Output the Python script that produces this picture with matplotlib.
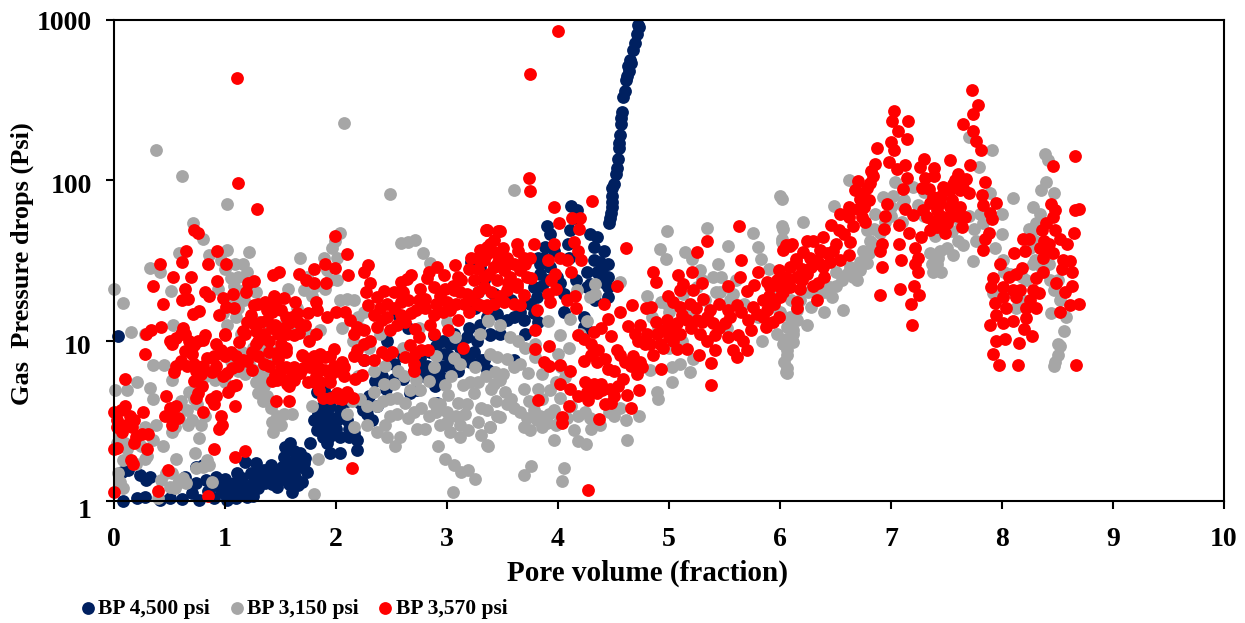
import matplotlib
matplotlib.use('Agg')
import matplotlib.pyplot as plt
from matplotlib.transforms import ScaledTranslation

plt.rcParams['font.family'] = ['Liberation Serif', 'DejaVu Serif']
plt.rcParams['font.weight'] = 'bold'

x_ticks = [0, 1, 2, 3, 4, 5, 6, 7, 8, 9, 10]
y_ticks = [1, 10, 100, 1000]
y_tick_labels = ['1', '10', '100', '1000']

# BP 4,500 psi, (pore volume, psi)
navy_low = [(0.04,10.7),(0.08,1),(0.21,1.04),(0.28,1.06),(0.07,1.52),(0.13,1.56),(0.23,1.45),(0.32,1.42),
            (0.29,1.35),(0.41,1.01),(0.5,1.04),(0.61,1.03),(0.64,1.42),(0.74,1.64),(0.8,1.68),(0.7,1.12),
            (0.77,1.01),(0.74,1.29),(0.83,1.35),(0.92,1.42),(0.96,1.17),(1.02,1.01),(1.1,1.04),(1.2,1.06),
            (1.25,1.07),(1.17,1.23),(1.08,1.29),(0.98,1.29),(1.11,1.49),(1.18,1.76),(1.28,1.72),(1.23,1.49),
            (1.32,1.35),(1.41,1.68),(1.47,1.23),(1.38,1.42),(1.5,1.49),(1.6,1.13),(1.54,2.18),(1.59,2.29),
            (1.53,1.89),(1.51,1.64),(1.59,1.76),(1.68,1.98),(1.77,2.29),(1.69,1.32),(1.74,1.52),(1.68,1.64),
            (1.63,1.42),(0.85,1.15),(0.9,1.05),(1.0,1.1),(1.05,1.18),(1.14,1.12),(1.3,1.2),(1.36,1.3),
            (1.44,1.4),(1.56,1.5),(1.62,1.6),(1.72,1.85),(1.0,1.38),(1.15,1.4),(1.25,1.3),(1.08,1.12),
            (1.2,1.2),(1.28,1.45),(1.35,1.55),(1.42,1.28),(1.46,1.55),(1.52,1.38),(1.58,1.28),(1.64,1.75),
            (1.66,1.25),(1.71,1.72),(1.62,2.05),(0.9,1.25),(0.95,1.35),(1.12,1.3),(1.22,1.15),(1.3,1.55)]
navy_mid = [(1.8,3.2),(1.86,3.8),(1.95,3.9),(2.04,3.7),(1.83,2.77),(1.92,2.9),(2.01,3.2),(1.92,2.29),
            (1.95,2),(2.04,2),(2.19,2.08),(2.19,2.4),(2.04,2.52),(2.16,2.64),(1.98,4.5),(1.83,4.8),
            (1.89,4.9),(2.28,3.5),(2.37,3.9),(2.22,4.1),(2.25,7.6),(2.41,6),(2.46,10),(2.52,7.2),
            (2.55,14.7),(2.73,4.9),(2.67,4.7),(2.79,6),(2.88,6.2),(2.94,6),(2.89,5.2),(2.91,4.1),
            (2.97,8.3),(2.94,7),(3.03,9.5),(3.06,11),(2.88,10.8),(3.21,7.4),(3.15,8.3),(3.27,10),
            (3.31,7.6),(3.39,11),(3.37,6.6),(3.42,19.6),(3.45,14.7),(3.22,31),(3.3,29),(3.33,24),
            (1.9,3.4),(1.98,3.0),(1.88,2.5),(2.1,3.2),(2.12,2.8),(1.97,2.6),(2.1,4.2),(2.3,4.5),
            (2.35,5.6),(2.6,8),(2.65,12),(2.75,7),(2.85,8.5),(3.0,7),(3.1,10),(3.1,6.5),(3.2,12),(3.25,16),
            (1.84,3.5),(1.88,3.1),(1.92,3.6),(1.96,3.3),(2.0,2.8),(2.07,3.4),(2.12,2.5),(1.86,2.9),(1.94,2.5),
            (2.05,4.2),(2.24,3.7),(2.32,3.2),(2.45,5),(2.52,5.8),(2.6,5.8),(2.7,6.5),(2.76,7.8),(2.82,7),
            (2.9,9.2),(2.96,10),(3.02,8),(3.08,7.5),(3.12,9),(3.18,10.5),(3.24,8.5),(3.3,12.5),(3.36,14),(3.28,20)]
navy_high = [(3.39,10.8),(3.6,7.6),(3.36,6.6),(3.33,7.6),(3.48,11),(3.54,13.4),(3.6,14),(3.69,13.4),
             (3.78,14.8),(3.42,19.6),(3.81,18.8),(3.78,21.6),(3.84,26),(3.82,33),(3.9,52),(3.93,46.5),
             (3.88,38.5),(3.87,33),(4.12,69),(4.17,65),(4.11,48.7),(4.09,40),(4.29,46.5),(4.35,44),
             (4.32,38.5),(4.41,36),(4.32,32),(4.45,30),(4.26,27),(4.35,27),(4.45,25),(4.45,21.6),
             (4.26,21.6),(4.05,19.6),(4.05,15),(4.45,18.8),(4.23,14),(4.26,11.6),(4.23,12.2),(4.29,22.7),
             (3.99,25),(3.93,29),(3.84,30),(3.9,24),(3.75,17),(4.14,58),(4.1,33),(4.37,26),(4.33,18),(3.7,11),
             (3.86,22),(3.82,13),(3.66,15),(3.58,18),(4.02,23),(4.16,24),(4.38,31),(4.42,23),(4.4,28),(3.96,36)]
navy_spike = [(4.46,54),(4.47,58),(4.48,63),(4.49,68),(4.487,73),(4.49,80),(4.49,89),(4.5,95),(4.52,110),
              (4.53,120),(4.54,135),(4.55,158),(4.55,172),(4.56,191),(4.57,226),(4.57,245),(4.58,265),
              (4.59,330),(4.6,360),(4.61,420),(4.62,450),(4.63,520),(4.64,480),(4.65,560),(4.66,540),
              (4.68,650),(4.69,720),(4.71,820),(4.72,930),(4.73,900)]

# BP 3,150 psi
gray_left = [(2.07,229),(0.38,154),(0.61,106),(1.02,71),(2.49,82),(0.71,54),(0.8,43),(0.59,35),(0.32,28.5),
             (0.41,27),(0.86,34),(1.02,36.6),(1.09,30),(1.22,35.7),(1.05,24.6),(1.2,27),(0.51,20.3),(0,21),
             (0.08,17.2),(0.15,11.3),(0.53,12.5),(0.28,11),(0.35,7.1),(0.45,7.1),(0.52,5.7),(0.21,5.5),
             (0.32,5.1),(0.01,4.9),(0.12,4.9),(0.35,4.3),(2.59,40.6),(2.71,42.6),(2.65,41),(2.78,35),
             (2.85,30.6),(1.68,33),(1.89,32.6),(1.96,37.6),(2.04,47),(1.99,42),(2.01,33),(1.92,27.5),
             (2.01,24),(1.9,21),(1.57,21),(1.71,20.6),(2.04,17.9),(2.16,17.9),(2.1,18.3),(2.2,14),
             (1.02,12.5),(1.1,14),(1.14,11),(0.98,14.8),(1.17,17.9),(1.17,20.6),(1.86,11.6),
             (1.3,4.7),(1.35,5.2),(1.32,6),(1.26,6.6),(1.35,7.2),(1.4,7.6),(1.41,3.8),(1.38,4.5),
             (1.53,3.5),(1.6,3.5),(1.42,3.1),(1.43,2.7),(1.78,3.9),(1.84,1.84),(1.8,1.1),(0.67,3),
             (0.59,3.3),(0.68,4.8),(0.74,5.1),(0.83,6),(0.91,5.7),(0.77,2.46),(0.73,2),(0.56,1.84),
             (0.44,2.2),(0.52,2.7),(0.38,3),(0.28,1.84),(0.2,1.7),(0.08,1.8),(0.47,1.49),(0.86,1.68),
             (0.74,1.6),(0.8,1.64),(0.88,1.32),(0.58,1.29),(0.5,1.23),(0.05,1.32),(0.08,1.2),(0.4,1.04),
             (0.05,2.6),(0.03,2.3),(0.12,2.1),(0.24,2.2),(0.3,1.9),(0.55,2.9),(0.6,4.2),(0.75,4),
             (0.9,6.5),(1.05,7.5),(1.15,8.5),(1.25,9),(1.45,8.5),(1.65,12),(1.75,11),(1.3,13),(1.12,16),
             (0.94,21),(1.09,19),(1.04,17),(1.28,20),(0.72,4.3),(0.66,3.7),(0.7,3.2),(0.78,3),(0.82,3.4),
             (1.28,5.5),(1.34,4.2),(1.47,3.4),(1.5,3),(1.36,6.4),(1.22,7.2),(1.18,6.2),(0.35,2.4),(0.28,2.9),
             (0.1,2.3),(0.06,3),(0.04,1.5),(0.42,1.35),(0.55,1.2),(0.52,1.5),(0.62,1.4),(0.65,1.3),(0.84,1.8),
             (1.08,22),(1.12,25),(1.16,30),(1.0,28),(0.96,32),(1.82,22),(1.74,25),(1.78,19),(1.95,24),(2.22,12),
             (2.25,15),(2.15,10),(2.05,12),(1.65,16),(1.55,13),(1.4,12),(1.32,9),(1.12,6.5),(1.0,5.5)]
gray_mid = [(2.1,3.5),(2.16,2.9),(2.28,3),(2.37,2.7),(2.46,2.5),(2.53,2.2),(2.58,2.5),(2.44,3),(2.49,3.4),
            (2.55,3.5),(2.65,3.3),(2.73,2.8),(2.8,2.8),(2.77,3.8),(2.94,3),(3.03,2.7),(3.12,2.5),(2.92,2.2),
            (2.98,1.84),(3.06,1.68),(3.13,1.52),(3.19,1.56),(3.25,1.38),(3.05,1.14),(3.12,3),(3.19,2.77),
            (3.31,2.58),(3.39,2.9),(3.36,2.23),(2.22,4.3),(2.34,4.8),(2.43,5.4),(2.52,5.4),(2.37,3.9),
            (2.49,4.3),(2.61,6),(2.67,4.9),(2.76,4.9),(2.88,6.9),(3.06,7.8),(3.12,7.2),(3.25,6.9),
            (3.3,11),(3.37,13.4),(3.07,10.6),(3.04,6),(2.88,4.1),(2.94,4),(3.01,4.6),(3,3.6),(3.1,4.1),
            (3.21,5.5),(3.18,4),(3.24,4.7),(3.31,3.8),(3.4,5),(3.45,7.9),(3.45,3.4),(3.6,86.5),(3.69,2.9),
            (3.75,2.77),(3.81,3.2),(3.9,3.05),(3.96,3.7),(4.02,4.4),(3.69,5),(3.82,5),(3.93,4.9),
            (3.54,4),(3.48,3.35),(3.6,3.8),(3.42,5.4),(3.48,5.7),(3.43,6.4),(3.6,6.9),(3.73,6.3),
            (3.79,7.9),(4,8.3),(4.03,6.9),(3.57,10.6),(3.64,10),(3.48,12.5),(3.37,13.2),(3.91,13.2),
            (4.02,10.8),(4.11,13.6),(4.26,13.2),(3.79,9.6),(3.39,8.3),(3.54,7.7),(3.76,1.66),(3.69,1.45),
            (3.37,2.2),(3.39,2.9),(4.05,1.6),(4.04,1.34),(3.96,2.4),(4.14,2.77),(4.18,2.37),(4.25,2.27),
            (4.24,3.6),(4.29,3.3),(4.5,3.4),(4.62,2.4),(4.61,3.2),(4.73,3.4),(4.33,22.7),(4.56,23.3),
            (4.33,19.6),(4.29,18.7),(4.17,20.6),(2.6,9),(2.75,12),(2.9,8),(3.0,13),(2.2,6),(2.3,9),(2.4,11),
            (2.14,4.2),(2.28,3.9),(2.42,4.2),(2.55,4.4),(2.62,4.1),(2.7,3.6),(2.84,3.4),(2.9,3.6),(3.0,3.1),
            (3.08,3.4),(3.16,3.5),(3.28,3.1),(3.36,3.7),(3.44,4.2),(3.52,4.8),(3.58,4.3),(3.5,6.2),(3.35,6),
            (3.28,5.5),(3.14,5.3),(2.98,5.3),(2.84,5.6),(2.72,5.7),(2.56,6.5),(2.44,7),(2.34,6.5),(3.66,3.6),
            (3.72,3.3),(3.78,3.7),(3.84,3.4),(3.86,2.9),(3.92,3.5),(3.98,3),(4.02,3.2),(4.08,3.3),(4.12,3.9),
            (4.18,3.4),(4.3,2.8),(4.38,3),(4.46,3.6),(4.56,3.8),(3.74,4.2),(3.86,4.3),(3.98,5.5),(4.06,5.9),
            (3.66,7.2),(3.86,6.2),(3.7,9),(4.1,9),(4.2,11)]
gray_right = [(4.98,48),(5.34,50.5),(5.76,47),(6,80),(6.02,52),(6.02,43),(4.92,37.5),(4.97,32.5),(5.14,35.8),
              (5.21,32.5),(5.53,39),(5.8,38.5),(5.83,32.5),(5.28,27.5),(5.44,30),(5.4,25),(5.47,25),(4.8,19),
              (4.93,17.5),(4.98,17),(5.58,19.6),(5.55,17.9),(5.46,20),(5.25,21.6),(5.13,19.6),(6.05,10.3),
              (6.06,8.7),(6.04,7.4),(6.06,6.8),(6.08,12.2),(6.15,13.4),(6.12,11),(5.84,10),(5.97,11),
              (5.19,6.4),(5.03,5.5),(4.89,4.8),(4.9,4.3),(4.83,6.6),(5.03,6.9),(5.1,7.2),(5.22,7.7),
              (5.0,15),(5.3,24),(5.6,24),(5.9,28),(6.62,101),(6.02,77),(6.21,55),(6.03,50),(6.49,69),(6.02,41),
              (6.09,14),(6.15,15.5),(6.06,12.2),(6.12,11.6),(6.03,9.6),(6.12,9.8),(6.06,8.1),(6.05,6.4),
              (6.06,6.3),(6.24,12.6),(6.4,15.1),(6.57,15.5),(6.28,16.2),(6.47,18.7),(6.45,21.6),(6.6,26),
              (6.69,24),(6.72,27.5),(6.63,29),(6.78,30.3),(6.75,36.5),(6.81,42),(6.78,48.7),(6.86,62),
              (6.93,78.5),(7.04,97),(7.2,91),(7,68.3),(6.9,47),(6.66,25),(6.7,28),(6.76,32),(6.84,40),(6.5,27),
              (7.38,27),(7.45,27),(7.41,30),(7.35,35),(7.44,36.5),(7.56,34),(7.65,39.3),(7.74,31.4),(7.77,42),
              (7.83,54),(7.8,62),(8,46),(8,62),(7.94,38),(8.1,78),(7.91,155),(7.79,121),(7.7,186),(7.89,83),
              (8.39,147),(8.41,133),(8.4,98),(8.35,87),(8.47,83),(8.28,68),(8.34,62),(8.31,54),(8.28,49),
              (8.25,38),(8.28,30),(8.01,32),(8.07,26),(7.92,19.7),(8.13,15.9),(8.43,24),(8.47,20.7),(8.52,17.9),
              (8.44,14.8),(8.58,14),(8.56,11.5),(8.5,9.6),(8.52,9.2),(8.5,8.1),(8.48,7.4),(8.47,7),
              (7.37,30),(7.42,33),(7.5,38),(7.6,42),(7.1,70),(7.3,85),(7.5,75),(7.0,60),(7.1,55),
              (4.85,14),(4.9,12),(5.0,9),(5.12,10),(5.2,15),(5.32,18),(5.42,20),(5.52,12),(5.68,17),(5.8,14),
              (5.9,16),(5.95,20),(6.0,15),(6.1,18),(6.18,18),(6.25,20),(6.32,21),(6.4,20),(6.5,22),(6.56,24),
              (6.62,27),(6.72,31),(6.8,35),(6.85,50),(6.95,55),(7.02,80),(7.12,75),(7.24,70),(7.3,60),(7.4,45),
              (7.48,50),(7.55,48),(7.62,55),(7.7,60),(7.75,50),(8.18,25),(8.22,24),(8.3,32),(8.36,28),(8.42,30),
              (8.5,24),(8.3,42),(8.24,50),(8.18,18),(8.08,20),(8.02,27)]

# BP 3,570 psi
red_left = [(1.11,437),(1.12,96),(1.29,66),(0.72,49),(0.76,47),(0.65,36),(0.61,31),(0.93,36),(0.85,30),(1.01,30),
            (0.41,30),(0.53,25),(0.69,25),(0.35,22),(0.93,23.5),(0.64,21),(0.82,20),(0.86,19),(1.07,19.6),
            (1.19,20),(0.98,18.5),(0.67,18.3),(0.61,17.9),(0.44,17),(1.01,16.2),(1.08,16),(0.77,15.3),
            (0.71,14.6),(0.95,14.4),(1.23,14.5),(1.26,16.8),(1.21,23),(1.26,23.6),(0,3.6),(0.03,3.2),(0.06,3.7),
            (0.1,3.9),(0.14,3.4),(0.18,3.2),(0.26,3.6),(0.03,2.9),(0.07,2.7),(0.11,3),(0.16,2.9),(0.2,2.5),
            (0.25,2.6),(0.31,2.6),(0.18,2.3),(0.03,2.15),(0,2.1),(0.3,2.1),(0.15,1.8),(0.17,1.7),(0.49,1.55),
            (0.4,1.15),(0,1.14),(0.1,5.8),(0.28,8.3),(0.29,11),(0.33,11.7),(0.42,12.2),(0.9,2.1),(1.09,1.87),
            (1.18,2.05),(0.85,1.08),(2.14,1.6),(0.47,4.5),(0.5,3.8),(0.53,3.4),(0.46,3.4),(0.52,3),(0.58,3.3),
            (0.56,3.9),(0.8,3.6),(0.87,4.3),(0.9,4),(0.96,3.4),(0.97,3),(0.95,2.8),(0.92,4.5),(1.03,4.8),
            (1.09,3.9),(0.5,10),(0.56,10.4),(0.52,9.6),(0.6,11),(0.62,12),(0.64,11),(0.68,10),(0.72,9.4),
            (0.76,10),(0.8,10.1),(0.82,10.8),(0.6,7.5),(0.56,7),(0.54,6.4),(0.66,7),(0.72,7.2),(0.74,6.5),
            (0.78,6.2),(0.72,5.6),(0.79,5.2),(0.76,4.7),(0.74,4.4),(0.84,7.8),(0.88,6.4),(0.92,7),(0.96,8.8),
            (0.98,6),(1,8),(1.02,6.3),(1.05,8.5),(1.07,5.2),(1.1,5.3),(1.13,9.8),(1.16,7.6),(1.2,7.5),(1.24,6.6),
            (1.12,7),(0.92,9.6),(1,10.8),(1,11),(1.16,11.5),(1.2,13),(1.18,11),(1.25,12.8),(1.28,11.5),
            (1.3,17),(1.36,17.4),(1.42,15),(1.45,16.8),(1.5,15.5),(1.55,14),(1.58,12.8),(1.6,14),(1.32,13),
            (1.38,13.5),(1.45,12.5),(1.48,11),(1.52,12),(1.35,11),(1.3,10),(1.28,9.5),(1.4,10),(1.5,9.5),
            (1.55,9),(1.62,10.8),(1.67,11.2),(1.35,7.2),(1.4,7),(1.5,6.6),(1.55,6.9),(1.45,6.1),(1.42,5.6),
            (1.55,5.7),(1.58,5.2),(1.62,5.7),(1.6,6.5),(1.7,6.8),(1.75,7.4),(1.8,7.2),(1.85,6.8),(1.9,7.9),
            (1.95,8),(1.98,7),(1.7,8),(1.8,8),(1.65,6.2),(1.75,5.5),(1.8,5.5),(1.82,6),(1.9,6.6),(1.95,5.5),
            (2,6.5),(1.85,4.9),(1.95,4.4),(2.05,4.3),(2.15,4.4),(2.1,4.8),(1.43,25.5),(1.49,27),(1.67,26),
            (1.8,28),(1.73,24),(1.8,23),(1.91,22.8),(1.9,30),(1.99,28.5),(1.99,45),(2.1,34.5),(2.11,25.5),
            (2.29,29.5),(2.25,27),(2.31,23),(2.27,20),(2.29,16.6),(2.43,20.3),(2.37,18.7),(1.82,17.5),
            (1.63,17.5),(1.44,19),(1.53,18.4),(1.65,14.8),(1.75,14.8),(1.83,15.5),(1.92,14),(2,15),(2.08,15),
            (2.13,13.4),(2.19,12.2),(1.38,15.5),(1.42,12),(1.56,11),(1.66,13),(1.72,12.5),(1.76,10),(1.82,11),
            (1.4,8.5),(1.24,8.5),(1.1,8),(0.64,8.6),(0.7,8.2),(0.8,7),(0.9,8),(1.06,6.8),(1.3,8),(1.48,7.7),(1.46,8.4)]
red_mid = [(2.41,13.4),(2.52,15.9),(2.59,17.4),(2.65,17.9),(2.68,25.5),(2.59,23.3),(2.64,24.4),(2.82,24.7),
           (2.91,28.9),(3.07,29.6),(2.97,25.5),(2.88,21.6),(2.8,18.3),(2.8,15.9),(2.68,14.8),(2.59,14.4),
           (2.34,14.4),(2.46,14),(2.37,12.2),(2.49,11.6),(2.88,14.4),(2.85,12.5),(2.88,11),(2.71,11.9),
           (2.75,10.6),(3.01,11.6),(3.03,15.5),(3,17.4),(2.94,19),(3.06,20.6),(3.13,23.8),(3.18,19.6),
           (3.24,23.8),(3.33,21.6),(3.15,17),(3.27,17),(3.36,16.6),(3.1,13.4),(3.36,49),(3.46,48),(3.3,36.6),
           (3.39,40),(3.45,35),(3.33,32),(3.42,29),(3.14,9),(2.67,9.4),(2.83,8.8),(2.71,8.3),(2.46,8.1),
           (2.5,8.5),(2.41,8.5),(2.62,7.9),(2.7,7.2),(2.7,6.5),(2.77,8.7),(2.34,7.6),(2.23,6.1),(2.17,5.8),
           (2.05,7.4),(2.11,4.6),(2.02,4.4),(2.01,4.7),(1.88,4.4),(1.86,5.5),(1.58,4.2),(1.46,4.2),(1.56,5.4),
           (1.47,5.7),(1.69,8.1),(1.55,8.5),(1.95,6),(2.07,6),(1.98,6.9),(2.07,6.9),(2.19,8.7),(2.25,9.6),
           (2.31,10),(2.16,11),(2.25,11.6),(2.16,8),(2.25,7.6),(1.86,8.3),(1.98,8.9),(1.77,6.9),(1.83,7.6),
           (1.68,6.3),(1.62,6.9),(1.5,6.9),(3.3,31.8),(3.36,38.5),(3.42,42.3),(3.48,35),(3.42,28.9),(3.54,33),
           (3.6,30),(3.69,33),(3.33,25),(3.45,23.8),(3.57,25),(3.66,27.6),(3.72,25),(3.76,24.6),(3.54,20.6),
           (3.63,21.6),(3.69,19.2),(3.51,17.5),(3.6,17),(3.66,16.6),(3.33,21.6),(3.3,16.6),(3.36,15.9),
           (3.42,35.8),(3.51,27.6),(3.63,22.7),(3.2,28),(3.1,25),(3.22,18),(2.72,15.5),(2.75,18),(2.9,17),
           (2.96,15),(3.08,17),(3.12,20),(3.2,15),(3.28,20),(3.4,20),(3.38,26),(3.46,31),(3.5,38),(3.55,30),
           (3.64,36),(3.7,30),(3.55,23),(3.48,19),(3.42,17),(3.35,34),(3.28,28),(3.22,33),(3.05,22),(2.98,21),
           (2.6,20),(2.52,20),(2.46,17),(2.4,16),(2.55,12.5),(2.62,13),(2.76,21),(2.84,27)]
red_arc = [(4,850),(3.75,460),(3.74,104),(3.75,86),(4.31,74),(3.96,68),(4.01,54),(4.13,58),(4.2,58),(4.19,50),
           (4.61,38),(3.35,49),(3.48,48),(3.63,40),(3.78,40),(3.96,40),(4.14,41),(4.18,36),(4.21,32),(4.02,33),
           (3.91,32),(4.08,32),(4.12,27),(3.75,33),(3.97,26),(3.94,24),(3.98,21),(4.15,19),(3.91,19.6),(3.93,17.4),
           (4.08,18),(4.16,16),(3.81,15.5),(3.79,11.6),(4.53,22),(4.41,17),(4.56,15),(4.67,16.6),(4.45,13.6),
           (4.18,10.8),(4.23,10.2),(4.32,11.3),(4.39,12),(4.48,10.7),(3.79,8.9),(3.92,9.2),(3.87,7.4),(3.92,7),
           (4.02,7.1),(4.11,6.5),(4.23,7.5),(4.02,5.4),(4.11,5),(3.82,4.25),(4.1,3.9),(4.04,3.35),(4.04,3.05),
           (4.37,3.27),(4.27,1.17),(4.3,8.1),(4.36,8.7),(4.35,7.4),(4.45,6.7),(4.42,7.7),(4.53,8.7),(4.56,8.1),
           (4.6,7.4),(4.68,8),(4.74,7.4),(4.71,6.2),(4.76,6.9),(4.59,5.8),(4.54,5.2),(4.47,5),(4.39,5.4),
           (4.32,5.4),(4.24,5.5),(4.26,4.8),(4.18,4.5),(4.35,4.7),(4.5,4.5),(4.42,4),(4.48,4.1),(4.62,4.6),
           (4.66,3.8),(4.73,4.9),(4.27,4.25),(4.3,9.5),(4.5,6.5),(4.66,7),(4.4,4.9),(4.3,5)]
red_band = [(4.63,12.3),(4.74,12.5),(4.69,11),(4.79,15.9),(4.84,16.2),(4.8,11),(4.86,26.8),(4.88,23.3),(4.83,9.6),
            (4.86,8.1),(4.93,6.7),(4.89,11),(4.95,11.6),(4.98,13.4),(5.04,10),(5.07,8.9),(5.16,8.9),(4.99,19),
            (5.04,17.4),(5.08,25.6),(5.21,26.8),(5.13,22.7),(5.3,22.9),(5.25,35.8),(5.34,42),(5.1,20.8),(5.22,20.8),
            (5.31,18.3),(5.1,16.2),(5.19,17),(5.07,12.8),(5.16,13.4),(5.25,13.4),(5.34,14),(5.45,17),(5.37,15.5),
            (5.4,12.8),(5.28,11),(5.34,10),(5.41,10.8),(5.27,8.1),(5.41,8.7),(5.38,7.3),(5.38,5.3),(5.53,22),
            (5.61,16.6),(5.53,15.5),(5.5,12.8),(5.53,10.6),(5.62,10.8),(5.58,8.7),(5.61,7.9),(5.7,8.7),(5.67,10),
            (5.74,11.6),(5.71,13.4),(5.79,14.7),(5.7,20.3),(5.77,22.2),(5.63,51.6),(5.65,32),(5.64,25),(5.8,27),
            (5.87,12.2),(5.94,13.1),(5.99,14),(5.88,23.3),(5.97,23.8),(5.99,27.7),(6.05,39.4),(6.11,40),(6.14,32.5),
            (6.15,17.4),(6.05,25),(6.09,29),(5.91,21.6),(5.85,18),(5.76,16.2),(5.88,15.5),(6,18.8),(6.09,21.6),
            (6.15,25),(5.85,14),(4.72,10),(4.78,9.5),(4.92,9.5),(5,10.5),(5.1,11),(5.2,12),(5.3,13),(5.45,12),
            (5.55,14),(5.65,15),(5.9,19),(5.95,17),(6,21.7),(6.77,55),(6.74,59),(6.68,87),(6.7,99),(6.75,83),
            (6.81,96),(6.84,107),(6.72,76),(6.62,68),(6.54,62),(6.62,59),(6.46,53),(6.53,49),(6.63,41),(6.39,44),
            (6.3,42),(6.24,42),(6.09,39),(6.03,37),(6.62,34),(6.54,32),(6.48,36),(6.36,37),(6.21,35.5),(6.14,31),
            (6.27,33),(6.33,32),(6.4,25),(6.34,23),(6.24,26),(6.15,25),(6.06,24),(6,25),(6.3,22),(6.33,18),
            (6.15,16),(6.03,20),(6.18,21),(6.45,31),(6.39,29),(4.95,9),(4.88,13),(5.02,12),(5.12,14.5),(5.24,16),
            (6.2,28),(6.28,29),(6.36,30),(6.42,35),(6.5,40),(6.58,46),(6.66,52),(6.7,66),(6.8,75),(6.76,68),(6.2,24)]
red_right = [(7.73,364),(7.78,294),(7.74,260),(7.65,226),(7.74,203),(7.77,177),(7.81,154),(7.03,271),(7.01,233),
             (7.15,234),(7.06,203),(7.14,180),(7,174),(7.03,155),(6.87,158),(6.86,127),(6.98,130),(7.05,118),
             (7.13,124),(7.3,135),(7.26,121),(7.39,120),(7.53,134),(7.71,124),(7.14,104),(7.11,88),(7.31,104),
             (7.28,89),(7.39,107),(7.6,110),(7.68,102),(7.53,87),(7.85,98),(7.82,81),(7.83,70),(7.95,72),(7.89,63),
             (7.91,57),(7.88,47),(7.85,43),(7.83,37),(6.96,71),(6.95,60),(6.94,50),(6.92,40),(6.9,36),(6.92,29),
             (6.9,19.3),(7.08,21),(7.21,22),(7.25,19.2),(7.18,17),(7.19,12.5),(7.24,27),(7.22,30),(7.24,33),(7.22,38),
             (7.27,44),(7.09,32),(7.07,40),(7.16,47),(7.07,53),(7.13,66),(7.2,61),(7.29,65),(7.35,49),(7.41,51),
             (7.49,47),(7.5,54),(7.64,51),(7.67,59),(7.62,68),(7.53,68),(7.44,72),(7.38,79),(7.47,91),(7.56,95),
             (7.62,87),(7.7,83),(7.35,72),(7.41,65),(7.47,59),(7.32,59),(7.38,56),(7.53,59),(8.66,141),(8.46,122),
             (8.44,71.6),(8.48,65),(8.46,59),(8.4,54),(8.48,49),(8.36,49),(8.52,43),(8.59,40),(8.66,65),(8.69,66.5),
             (8.65,47),(8.19,43),(8.24,43),(8.21,36),(8.11,35),(8.34,38),(8.4,36.5),(8.46,35),(8.37,33),(7.98,30),
             (8.55,32),(8.61,31.5),(8.37,27),(8.54,28),(8.63,27),(8.18,28.5),(8.13,26),(8.06,25),(7.92,24.5),
             (7.9,21.6),(8.01,21.6),(8.1,20.6),(8.16,20.6),(8.31,24.5),(8.28,20.6),(8.33,19.7),(8.49,22.8),(8.57,20),
             (8.63,22),(7.94,17.2),(8.01,18.8),(8.13,18.8),(8.25,17.9),(8.31,15.9),(8.22,15.9),(8.04,16.1),(8.52,15),
             (8.61,16.6),(8.69,17),(7.95,14.4),(7.89,12.5),(8.1,13.3),(8.22,13.8),(8.01,12.8),(8.2,11.9),(8.27,10.7),
             (8.03,10.3),(7.95,10),(8.15,9.7),(7.92,8.3),(7.97,7.03),(8.14,7.03),(8.67,7.1),
             (7.45,80),(7.58,100),(7.65,90),(7.44,60),(7.55,75),(7.6,60),(7.34,88),(6.82,115),(6.78,90),(8.42,40),(8.38,42)]

navy = navy_low + navy_mid + navy_high + navy_spike
gray = gray_left + gray_mid + gray_right
red = red_left + red_mid + red_arc + red_band + red_right

fig = plt.figure(figsize=(12.45, 6.23), dpi=100)
ax = fig.add_axes([114 / 1245, 1 - 501 / 623, 1110 / 1245, 481 / 623])

for pts, color, label in [(navy, '#002060', 'BP 4,500 psi'),
                          (gray, '#A6A6A6', 'BP 3,150 psi'),
                          (red, '#FF0000', 'BP 3,570 psi')]:
    ax.scatter([p[0] for p in pts], [p[1] for p in pts], s=85, color=color,
               linewidths=0, label=label, clip_on=False)

ax.set_xlim(0, 10)
ax.set_yscale('log')
ax.set_ylim(1, 1000)
ax.set_xticks(x_ticks)
ax.set_yticks(y_ticks)
ax.set_yticklabels(y_tick_labels)
ax.minorticks_off()
ax.tick_params(direction='out', length=6, width=1.5, labelsize=20)
ax.tick_params(axis='x', pad=13)
ax.tick_params(axis='y', pad=10)
for s in ax.spines.values():
    s.set_linewidth(1.5)

# the y labels sit a bit below their ticks in the original
for lab, dy in zip(ax.get_yticklabels(), [7, 4, 3, 0]):
    lab.set_transform(lab.get_transform() + ScaledTranslation(0, -dy / 100, fig.dpi_scale_trans))

ax.set_xlabel('Pore volume (fraction)', fontsize=21, fontweight='bold')
ax.xaxis.set_label_coords(0.481, -0.122)
ax.set_ylabel('Gas  Pressure drops (Psi)', fontsize=19, fontweight='bold')
ax.yaxis.set_label_coords(-0.072, 0.494)

ax.legend(loc='center left', bbox_to_anchor=(66.5 / 1245, 1 - 609 / 623),
          bbox_transform=fig.transFigure, ncol=3, frameon=False, fontsize=15.5,
          handletextpad=-0.53, columnspacing=0.25, borderpad=0, borderaxespad=0,
          scatterpoints=1)

fig.savefig('out.png', dpi=100)
